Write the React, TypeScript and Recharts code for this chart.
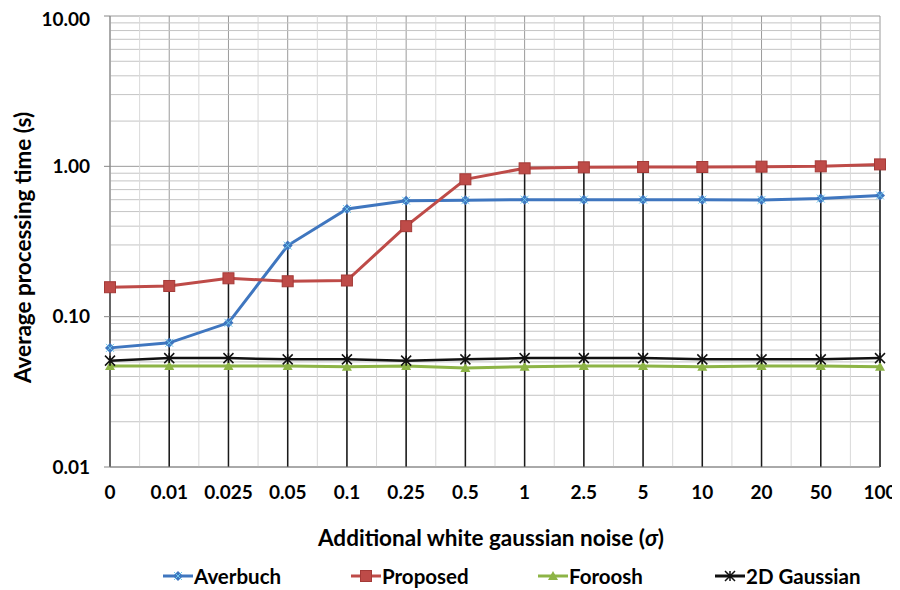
import React from 'react';
import { LineChart, Line, XAxis, YAxis, CartesianGrid, ReferenceLine, Legend, Label } from 'recharts';

const noiseLabels = ['0', '0.01', '0.025', '0.05', '0.1', '0.25', '0.5', '1', '2.5', '5', '10', '20', '50', '100'];
const averbuch = [0.062, 0.067, 0.091, 0.297, 0.52, 0.59, 0.595, 0.6, 0.6, 0.6, 0.6, 0.598, 0.61, 0.64];
const proposed = [0.157, 0.16, 0.18, 0.172, 0.174, 0.4, 0.82, 0.97, 0.985, 0.99, 0.99, 0.995, 1.0, 1.03];
const foroosh = [0.047, 0.047, 0.047, 0.047, 0.0465, 0.047, 0.0455, 0.0465, 0.047, 0.047, 0.0465, 0.047, 0.047, 0.0465];
const gaussian2d = [0.051, 0.053, 0.053, 0.052, 0.052, 0.051, 0.052, 0.053, 0.053, 0.053, 0.052, 0.052, 0.052, 0.053];

const yTicks = [0.01, 0.1, 1, 10];
const yMinor = [0.01, 0.1, 1].flatMap((d) => [2, 3, 4, 5, 6, 7, 8, 9].map((m) => +(d * m).toPrecision(2)));

const FONT = 'Lato, "Open Sans", sans-serif';
const COLORS = { averbuch: '#3F76BF', proposed: '#BE4B48', foroosh: '#8DB446', gaussian: '#111111' };

const data = noiseLabels.map((label, i) => ({
  idx: i,
  label,
  averbuch: averbuch[i],
  proposed: proposed[i],
  foroosh: foroosh[i],
  gaussian: gaussian2d[i],
}));
const xTicks = data.map((d) => d.idx);
const xMinor = data.slice(1).map((d) => d.idx - 0.5);

type Shape = 'diamond' | 'square' | 'triangle' | 'cross';

const Marker = ({ cx, cy, shape, color }: { cx: number; cy: number; shape: Shape; color: string }) => {
  if (shape === 'diamond') {
    return (
      <g>
        <path d={`M${cx},${cy - 5}L${cx + 5},${cy}L${cx},${cy + 5}L${cx - 5},${cy}Z`} fill={color} />
        <path d={`M${cx - 4},${cy - 4}L${cx + 4},${cy + 4}M${cx - 4},${cy + 4}L${cx + 4},${cy - 4}`} stroke="#6fc7ea" strokeWidth={1} />
      </g>
    );
  }
  if (shape === 'square') {
    return <rect x={cx - 5.5} y={cy - 5.5} width={11} height={11} fill={color} stroke="#a43a37" strokeWidth={1} />;
  }
  if (shape === 'triangle') {
    return <path d={`M${cx},${cy - 5}L${cx + 5},${cy + 4}L${cx - 5},${cy + 4}Z`} fill={color} />;
  }
  return (
    <path
      d={`M${cx - 5},${cy - 5}L${cx + 5},${cy + 5}M${cx - 5},${cy + 5}L${cx + 5},${cy - 5}M${cx},${cy - 5}L${cx},${cy + 5}`}
      stroke={color}
      strokeWidth={1.5}
    />
  );
};

const makeDot = (shape: Shape, color: string) => (props: any) => (
  <Marker key={`${shape}-${props.index}`} cx={props.cx} cy={props.cy} shape={shape} color={color} />
);

const legendItems: { name: string; color: string; shape: Shape; width: number }[] = [
  { name: 'Averbuch', color: COLORS.averbuch, shape: 'diamond', width: 188 },
  { name: 'Proposed', color: COLORS.proposed, shape: 'square', width: 187 },
  { name: 'Foroosh', color: COLORS.foroosh, shape: 'triangle', width: 177 },
  { name: '2D Gaussian', color: COLORS.gaussian, shape: 'cross', width: 150 },
];

const renderLegend = () => (
  <div
    style={{
      display: 'flex',
      alignItems: 'center',
      height: 24,
      paddingLeft: 155,
      fontFamily: FONT,
      fontWeight: 700,
      fontSize: 20.5,
      color: '#000',
      whiteSpace: 'nowrap',
    }}
  >
    {legendItems.map((it) => (
      <span key={it.name} style={{ display: 'flex', alignItems: 'center', width: it.width }}>
        <svg width={30} height={14} style={{ marginRight: 1 }}>
          <line x1={0} y1={7} x2={30} y2={7} stroke={it.color} strokeWidth={3} />
          <Marker cx={15} cy={7} shape={it.shape} color={it.color} />
        </svg>
        <span>{it.name}</span>
      </span>
    ))}
  </div>
);

const tickStyle = { fill: '#000', fontSize: 19, fontWeight: 700, fontFamily: FONT };
const titleStyle = { fontFamily: FONT, fontWeight: 700, fontSize: 22.5 };

export default function App() {
  return (
    <div style={{ width: 892, height: 582 }}>
      <LineChart width={892} height={582} data={data} margin={{ top: 8, right: 20, bottom: 2, left: 0 }}>
        {yMinor.map((v) => (
          <ReferenceLine key={`hm-${v}`} y={v} stroke="#c4c4c4" strokeWidth={1} />
        ))}
        {xMinor.map((v) => (
          <ReferenceLine key={`vm-${v}`} x={v} stroke="#d9d9d9" strokeWidth={1} />
        ))}
        <CartesianGrid stroke="#9a9a9a" />
        <XAxis
          dataKey="idx"
          type="number"
          domain={[0, 13]}
          ticks={xTicks}
          interval={0}
          tickFormatter={(i: number) => noiseLabels[i]}
          tick={tickStyle}
          tickSize={0}
          tickMargin={19}
          height={97}
          axisLine={{ stroke: '#868686' }}
        >
          <Label
            content={({ viewBox }: any) => (
              <text
                x={viewBox.x + viewBox.width / 2 - 4}
                y={viewBox.y + 70}
                textAnchor="middle"
                dominantBaseline="central"
                style={titleStyle}
              >
                Additional white gaussian noise (<tspan fontStyle="italic">σ</tspan>)
              </text>
            )}
          />
        </XAxis>
        <YAxis
          type="number"
          scale="log"
          domain={[0.01, 10]}
          ticks={yTicks}
          allowDataOverflow
          tickFormatter={(v: number) => v.toFixed(2)}
          tick={tickStyle}
          tickSize={6}
          tickMargin={14}
          width={102}
          axisLine={{ stroke: '#868686' }}
          tickLine={{ stroke: '#868686' }}
        >
          <Label
            content={({ viewBox }: any) => {
              const x = viewBox.x + 14;
              const y = viewBox.y + viewBox.height / 2 + 6;
              return (
                <text
                  x={x}
                  y={y}
                  transform={`rotate(-90, ${x}, ${y})`}
                  textAnchor="middle"
                  dominantBaseline="central"
                  style={titleStyle}
                >
                  Average processing time (s)
                </text>
              );
            }}
          />
        </YAxis>
        {data.map((d) => (
          <ReferenceLine
            key={`drop-${d.idx}`}
            segment={[
              { x: d.idx, y: 0.01 },
              { x: d.idx, y: Math.max(d.averbuch, d.proposed, d.foroosh, d.gaussian) },
            ]}
            stroke="#1a1a1a"
            strokeWidth={1.5}
          />
        ))}
        <Legend verticalAlign="bottom" content={renderLegend} />
        <Line
          dataKey="foroosh"
          stroke={COLORS.foroosh}
          strokeWidth={3}
          dot={makeDot('triangle', COLORS.foroosh)}
          isAnimationActive={false}
        />
        <Line
          dataKey="gaussian"
          stroke={COLORS.gaussian}
          strokeWidth={2.5}
          dot={makeDot('cross', COLORS.gaussian)}
          isAnimationActive={false}
        />
        <Line
          dataKey="averbuch"
          stroke={COLORS.averbuch}
          strokeWidth={3}
          dot={makeDot('diamond', COLORS.averbuch)}
          isAnimationActive={false}
        />
        <Line
          dataKey="proposed"
          stroke={COLORS.proposed}
          strokeWidth={3}
          dot={makeDot('square', COLORS.proposed)}
          isAnimationActive={false}
        />
      </LineChart>
    </div>
  );
}
